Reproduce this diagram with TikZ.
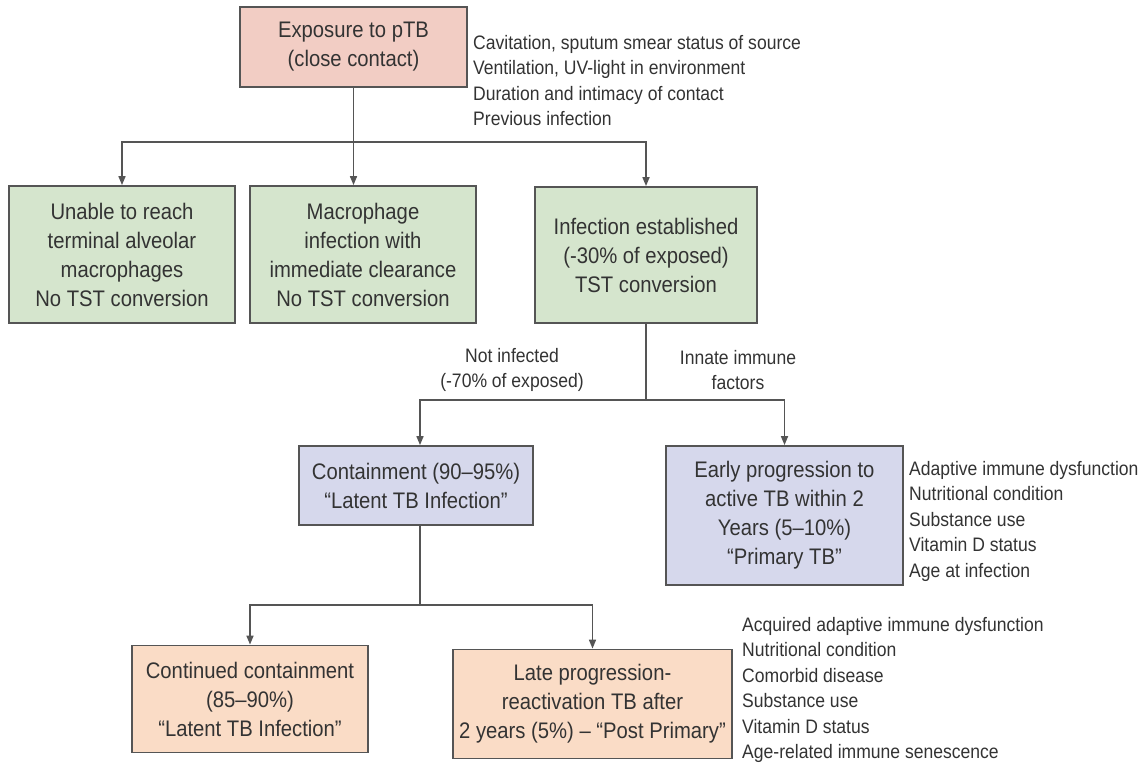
\documentclass[tikz,border=0pt]{standalone}
\usepackage{fontspec}
\setmainfont{Liberation Sans}[FakeStretch=0.9]
\usetikzlibrary{arrows.meta}
\definecolor{pinkfill}{HTML}{F2CDC4}
\definecolor{greenfill}{HTML}{D5E5CD}
\definecolor{bluefill}{HTML}{D6D8EC}
\definecolor{orangefill}{HTML}{FADCC6}
\definecolor{edge}{HTML}{555555}
\definecolor{txt}{HTML}{333333}
\tikzset{
  box/.style={draw=edge, line width=1.8pt, rectangle, align=center, text=txt,
    inner sep=2pt, font=\fontsize{22.5}{29}\selectfont},
  side/.style={align=left, inner sep=0pt, text=txt, anchor=west,
    font=\fontsize{19.5}{25.5}\selectfont},
  lbl/.style={align=center, inner sep=0pt, text=txt,
    font=\fontsize{19.5}{25.5}\selectfont},
  conn/.style={draw=edge, line width=1.6pt},
  arr/.style={conn, -{Triangle[length=9pt,width=7pt]}}
}
\begin{document}
\begin{tikzpicture}[x=1pt,y=-1pt]
\useasboundingbox[fill=white] (0,0) rectangle (1148,766);
% boxes
\node[box, fill=pinkfill, minimum width=227pt, minimum height=80pt] (top) at (353.5,47) {Exposure to pTB\\(close contact)};
\node[box, fill=greenfill, minimum width=226pt, minimum height=137pt] (b1) at (122,254.5) {Unable to reach\\terminal alveolar\\macrophages\\No TST conversion};
\node[box, fill=greenfill, minimum width=226pt, minimum height=137pt] (b2) at (363,254.5) {Macrophage\\infection with\\immediate clearance\\No TST conversion};
\node[box, fill=greenfill, minimum width=222pt, minimum height=136pt] (b3) at (646,255) {Infection established\\(-30\% of exposed)\\TST conversion};
\node[box, fill=bluefill, minimum width=234pt, minimum height=79pt] (cont) at (416,485.5) {Containment (90–95\%)\\“Latent TB Infection”};
\node[box, fill=bluefill, minimum width=237pt, minimum height=139pt] (early) at (784.5,515.5) {Early progression to\\active TB within 2\\Years (5–10\%)\\“Primary TB”};
\node[box, fill=orangefill, minimum width=236pt, minimum height=107pt] (ol) at (250,699) {Continued containment\\(85–90\%)\\“Latent TB Infection”};
\node[box, fill=orangefill, minimum width=279pt, minimum height=109pt] (or) at (592.5,704) {Late progression-\\reactivation TB after\\2 years (5\%) – “Post Primary”};
% side texts
\node[side] (s1) at (473,80.5) {Cavitation, sputum smear status of source\\Ventilation, UV-light in environment\\Duration and intimacy of contact\\Previous infection};
\node[side] (s2) at (909,521) {Adaptive immune dysfunction\\Nutritional condition\\Substance use\\Vitamin D status\\Age at infection};
\node[side] (s3) at (742,690) {Acquired adaptive immune dysfunction\\Nutritional condition\\Comorbid disease\\Substance use\\Vitamin D status\\Age-related immune senescence};
% labels
\node[lbl] (ni) at (512,370) {Not infected\\(-70\% of exposed)};
\node[lbl] (ii) at (738,370) {Innate immune\\factors};
% connectors
\coordinate (j1) at (353.5,142);
\draw[arr] (top.south) -- (top.south |- b2.north);
\draw[arr] (j1) -| (b1.north);
\draw[arr] (j1) -| (b3.north);
\coordinate (j2) at (646,400);
\draw[conn] (b3.south) -- (j2);
\draw[arr] (j2) -| ([xshift=4pt]cont.north);
\draw[arr] (j2) -| (early.north);
\coordinate (j3) at (420,605);
\draw[conn] ([xshift=4pt]cont.south) -- (j3);
\draw[arr] (j3) -| (ol.north);
\draw[arr] (j3) -| (or.north);
\end{tikzpicture}
\end{document}
